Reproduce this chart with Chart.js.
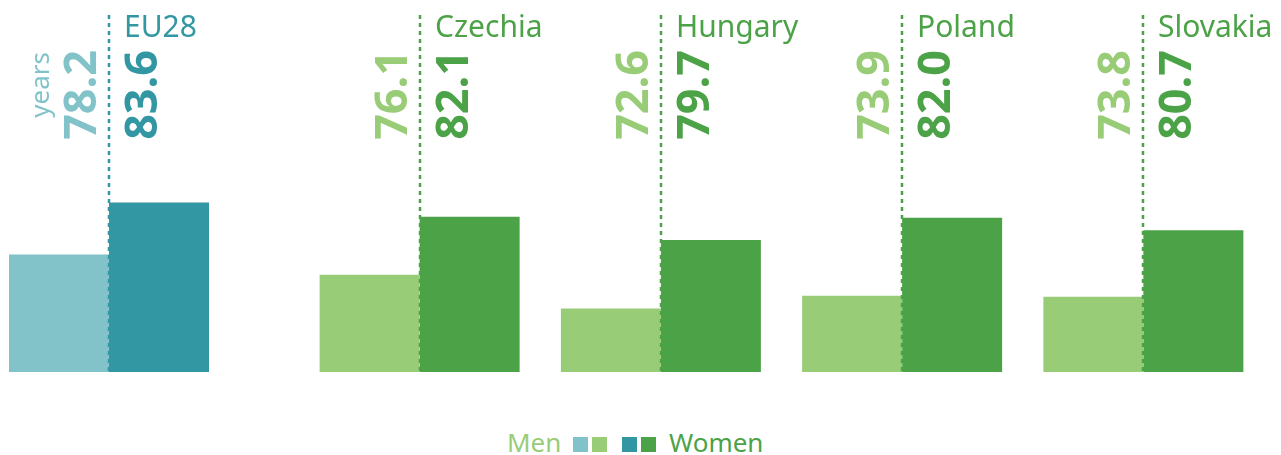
<!DOCTYPE html>
<html>
<head>
<meta charset="utf-8">
<script src="https://cdn.jsdelivr.net/npm/chart.js@4/dist/chart.umd.min.js"></script>
<style>
  html, body { margin: 0; padding: 0; background: #fff; }
  body { width: 1281px; height: 455px; position: relative; overflow: hidden; font-family: "Noto Sans", sans-serif; }
  .box { position: absolute; top: 0; height: 372px; }
  #boxA { left: 0; width: 218px; }
  #boxB { left: 299px; width: 982px; }
  .lg { position: absolute; font-size: 26px; line-height: 26px; top: 429px; white-space: nowrap; }
  .sq { position: absolute; top: 437px; width: 15px; height: 15px; }
</style>
</head>
<body>
<div class="box" id="boxA"><canvas id="cA"></canvas></div>
<div class="box" id="boxB"><canvas id="cB"></canvas></div>
<div id="legend"></div>
<script>
// ---- data ----
const categories = ['EU28', 'Czechia', 'Hungary', 'Poland', 'Slovakia'];
const menValues = [78.2, 76.1, 72.6, 73.9, 73.8];
const womenValues = [83.6, 82.1, 79.7, 82.0, 80.7];
const seriesNames = ['Men', 'Women'];
const unitLabel = 'years';

// ---- styles ----
const TEAL_LIGHT = '#82c3ca', TEAL_DARK = '#3297a2';
const GREEN_LIGHT = '#99cc77', GREEN_DARK = '#4ca247';

const labelPlugin = {
  id: 'labels',
  afterDatasetsDraw(chart, args, opts) {
    const ctx = chart.ctx;
    const xs = chart.scales.x;
    const bottom = chart.chartArea.bottom;
    const labels = chart.data.labels;
    labels.forEach((lab, i) => {
      const x = Math.round(xs.getPixelForValue(i));
      ctx.save();
      // dotted divider
      ctx.strokeStyle = opts.dark;
      ctx.lineWidth = 2.5;
      ctx.setLineDash([4, 4]);
      ctx.beginPath();
      ctx.moveTo(x, 15);
      ctx.lineTo(x, bottom);
      ctx.stroke();
      ctx.setLineDash([]);
      // country name
      ctx.fillStyle = opts.dark;
      ctx.font = '30px "Noto Sans"';
      ctx.textAlign = 'left';
      ctx.textBaseline = 'alphabetic';
      ctx.fillText(lab, x + 15, 37);
      // rotated values
      const men = chart.data.datasets[0].data[i];
      const women = chart.data.datasets[1].data[i];
      ctx.font = 'bold 45px "Noto Sans"';
      ctx.textAlign = 'right';
      ctx.save();
      ctx.translate(x - 13, 50);
      ctx.rotate(-Math.PI / 2);
      ctx.fillStyle = opts.light;
      ctx.fillText(men.toFixed(1), 0, 0);
      ctx.restore();
      ctx.save();
      ctx.translate(x + 48, 50);
      ctx.rotate(-Math.PI / 2);
      ctx.fillStyle = opts.dark;
      ctx.fillText(women.toFixed(1), 0, 0);
      ctx.restore();
      if (opts.unit && i === 0) {
        ctx.save();
        ctx.translate(49, 52);
        ctx.rotate(-Math.PI / 2);
        ctx.font = '26px "Noto Sans"';
        ctx.fillStyle = opts.light;
        ctx.textAlign = 'right';
        ctx.fillText(opts.unit, 0, 0);
        ctx.restore();
      }
      ctx.restore();
    });
  }
};

function makeChart(id, idxFrom, idxTo, light, dark, catPct, padRight, unit) {
  return new Chart(document.getElementById(id), {
    type: 'bar',
    data: {
      labels: categories.slice(idxFrom, idxTo),
      datasets: [
        { label: seriesNames[0], data: menValues.slice(idxFrom, idxTo), backgroundColor: light, borderWidth: 0 },
        { label: seriesNames[1], data: womenValues.slice(idxFrom, idxTo), backgroundColor: dark, borderWidth: 0 }
      ]
    },
    options: {
      responsive: true,
      maintainAspectRatio: false,
      animation: false,
      devicePixelRatio: 1,
      layout: { padding: { left: 0, right: padRight, top: 0, bottom: 0 } },
      categoryPercentage: catPct,
      barPercentage: 1.0,
      scales: {
        x: { display: false, offset: true },
        y: { display: false, min: 66, max: 104.6 }
      },
      plugins: {
        legend: { display: false },
        tooltip: { enabled: false },
        labels: { light: light, dark: dark, unit: unit }
      }
    },
    plugins: [labelPlugin]
  });
}

makeChart('cA', 0, 1, TEAL_LIGHT, TEAL_DARK, 200 / 218, 0, unitLabel);
makeChart('cB', 1, 5, GREEN_LIGHT, GREEN_DARK, 200 / 241.25, 17, null);

// ---- legend ----
const lg = document.getElementById('legend');
lg.innerHTML =
  '<span class="lg" style="left:507px;color:' + GREEN_LIGHT + '">' + seriesNames[0] + '</span>' +
  '<div class="sq" style="left:573px;background:' + TEAL_LIGHT + '"></div>' +
  '<div class="sq" style="left:592px;background:' + GREEN_LIGHT + '"></div>' +
  '<div class="sq" style="left:622px;background:' + TEAL_DARK + '"></div>' +
  '<div class="sq" style="left:641px;background:' + GREEN_DARK + '"></div>' +
  '<span class="lg" style="left:669px;color:' + GREEN_DARK + '">' + seriesNames[1] + '</span>';
</script>
</body>
</html>
